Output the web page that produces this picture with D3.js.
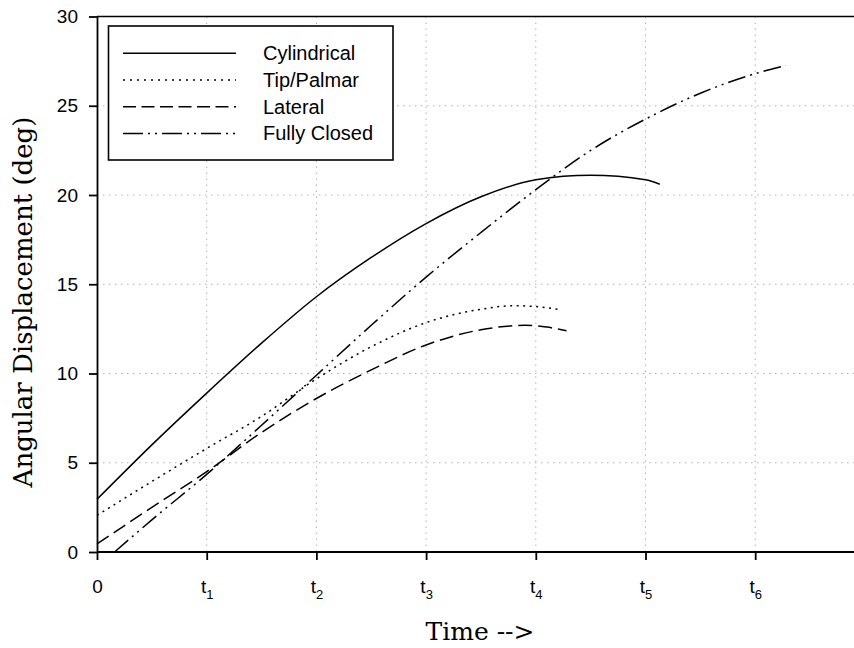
<!DOCTYPE html>
<html>
<head>
<meta charset="utf-8">
<script src="https://cdn.jsdelivr.net/npm/d3@7"></script>
<style>
  html, body { margin: 0; padding: 0; background: #fff; }
  svg { display: block; }
</style>
</head>
<body>
<svg id="chart" width="854" height="648"></svg>
<script>
// ---- data ----
const xTickValues = [0, 1, 2, 3, 4, 5, 6];
const xTickLabels = ["0", "t1", "t2", "t3", "t4", "t5", "t6"];
const yTickValues = [0, 5, 10, 15, 20, 25, 30];
const seriesNames = ["Cylindrical", "Tip/Palmar", "Lateral", "Fully Closed"];

const cylT = [0, 0.5, 1, 1.5, 2, 2.5, 3, 3.5, 4, 4.5, 5, 5.13];
const cylV = [2.95, 6.0, 8.9, 11.7, 14.3, 16.5, 18.4, 19.9, 20.85, 21.1, 20.85, 20.6];

const tipT = [0, 0.5, 1, 1.5, 2, 2.5, 3, 3.5, 3.8, 4.0, 4.2];
const tipV = [2.05, 3.95, 5.8, 7.6, 9.7, 11.5, 12.85, 13.6, 13.8, 13.75, 13.6];

const latT = [0, 0.5, 1, 1.5, 2, 2.5, 3, 3.5, 3.9, 4.1, 4.28];
const latV = [0.45, 2.5, 4.5, 6.7, 8.6, 10.2, 11.6, 12.45, 12.7, 12.6, 12.4];

const fcT = [0.16, 0.5, 1, 1.5, 2, 2.5, 3, 3.5, 4, 4.5, 5, 5.5, 6, 6.28];
const fcV = [0, 1.8, 4.35, 7.1, 9.9, 12.7, 15.4, 17.9, 20.3, 22.5, 24.25, 25.7, 26.8, 27.25];

const seriesT = [cylT, tipT, latT, fcT];
const seriesV = [cylV, tipV, latV, fcV];
const dashes = [null, "2,4.5", "14,6", "18,5,2,5,2,5"];
const legendDashes = [null, "2,5", "13,5.5", "20,5,2,5,2,5"];

// ---- layout ----
const svg = d3.select("#chart");
const L = 97, T = 16.5, B = 552;
const x = d3.scaleLinear().domain([0, 7]).range([L, L + 7 * 109.7]);
const y = d3.scaleLinear().domain([0, 30]).range([B, T]);
const W = 854;

// grid
const grid = svg.append("g").attr("stroke", "#b4b4b4").attr("stroke-width", 1)
  .attr("stroke-dasharray", "1.5,4.5");
yTickValues.filter(v => v > 0 && v < 30).forEach(v => {
  grid.append("line").attr("x1", L).attr("x2", W).attr("y1", y(v)).attr("y2", y(v));
});
xTickValues.filter(v => v > 0).forEach(v => {
  grid.append("line").attr("x1", x(v)).attr("x2", x(v)).attr("y1", T).attr("y2", B);
});

// top frame line
svg.append("line").attr("x1", L).attr("x2", W).attr("y1", T).attr("y2", T)
  .attr("stroke", "#000").attr("stroke-width", 1.6);

// axes
const xAxis = d3.axisBottom(x).tickValues(xTickValues).tickSize(8).tickSizeOuter(0).tickPadding(20)
  .tickFormat((d, i) => xTickLabels[i]);
const gx = svg.append("g").attr("transform", `translate(0,${B})`).call(xAxis);
gx.select(".domain").attr("stroke-width", 1.8).attr("d", `M${L},0H${W}`);
gx.selectAll(".tick line").attr("stroke-width", 1.8);
gx.selectAll(".tick text").each(function(d, i) {
  const lab = xTickLabels[i];
  const t = d3.select(this).text(null)
    .attr("font-family", "'Liberation Sans', Arial, sans-serif").attr("font-size", 19).attr("fill", "#000");
  if (lab.length > 1) {
    t.append("tspan").text(lab[0]);
    t.append("tspan").text(lab.slice(1)).attr("font-size", 13).attr("dy", 6);
  } else {
    t.text(lab);
  }
});

const yAxis = d3.axisLeft(y).tickValues(yTickValues).tickSize(8).tickSizeOuter(0).tickPadding(11);
const gy = svg.append("g").attr("transform", `translate(${L},0)`).call(yAxis);
gy.select(".domain").attr("stroke-width", 1.8);
gy.selectAll(".tick line").attr("stroke-width", 1.8);
gy.selectAll(".tick text").attr("font-family", "'Liberation Sans', Arial, sans-serif")
  .attr("font-size", 19).attr("fill", "#000");

// series
const line = d3.line().x(d => x(d[0])).y(d => y(d[1])).curve(d3.curveMonotoneX);
seriesNames.forEach((name, k) => {
  const pts = seriesT[k].map((t, i) => [t, seriesV[k][i]]);
  const p = svg.append("path").attr("d", line(pts)).attr("fill", "none")
    .attr("stroke", "#000").attr("stroke-width", 1.5);
  if (dashes[k]) p.attr("stroke-dasharray", dashes[k]);
});

// legend
const lg = svg.append("g");
lg.append("rect").attr("x", 108.5).attr("y", 26).attr("width", 284.5).attr("height", 134)
  .attr("fill", "#fff").attr("stroke", "#000").attr("stroke-width", 1.6);
seriesNames.forEach((name, k) => {
  const cy = 53.3 + k * 26.7;
  const l = lg.append("line").attr("x1", 123).attr("x2", 236).attr("y1", cy).attr("y2", cy)
    .attr("stroke", "#000").attr("stroke-width", 1.5);
  if (legendDashes[k]) l.attr("stroke-dasharray", legendDashes[k]);
  lg.append("text").attr("x", 263).attr("y", cy + 7).text(name)
    .attr("font-family", "'Liberation Sans', Arial, sans-serif").attr("font-size", 20).attr("fill", "#000");
});

// axis titles
svg.append("text").attr("x", 480).attr("y", 640).attr("text-anchor", "middle")
  .attr("font-family", "'DejaVu Serif', serif").attr("font-size", 25).attr("fill", "#000")
  .text("Time -->");
svg.append("text").attr("transform", "translate(32,302) rotate(-90)").attr("text-anchor", "middle")
  .attr("font-family", "'DejaVu Serif', serif").attr("font-size", 26).attr("fill", "#000")
  .text("Angular Displacement (deg)");
</script>
</body>
</html>
